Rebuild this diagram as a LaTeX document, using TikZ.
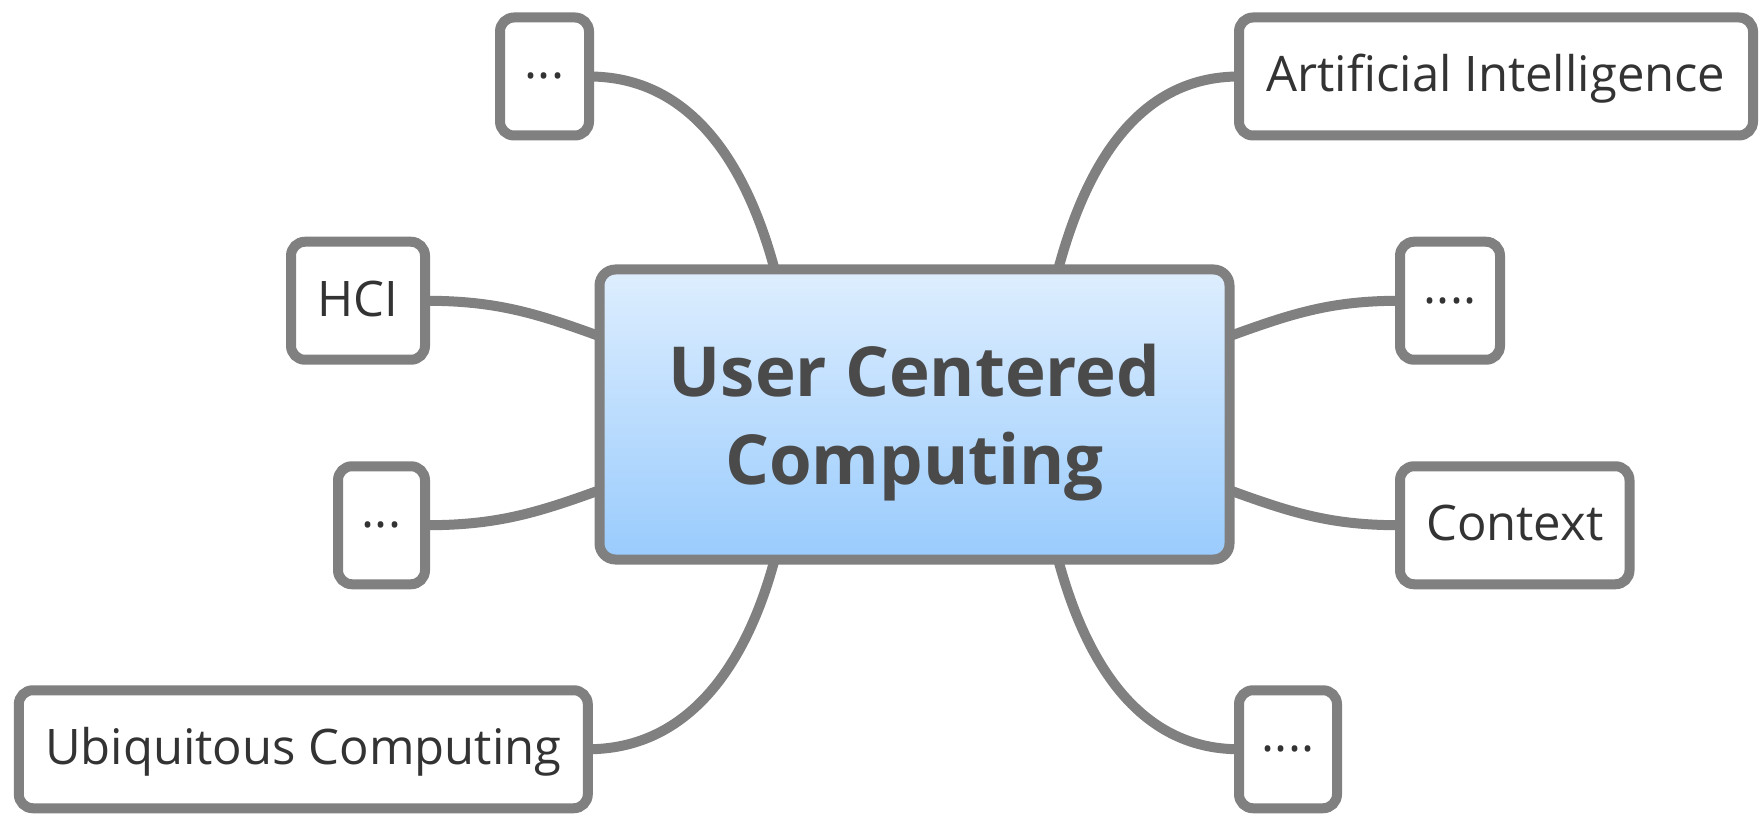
\documentclass[tikz,border=0pt]{standalone}
\usepackage{fontspec}
\setmainfont{Open Sans}
\usetikzlibrary{calc,backgrounds}
\definecolor{linegray}{HTML}{808080}
\definecolor{textgray}{HTML}{333333}
\definecolor{cctext}{HTML}{4A4A4A}
\definecolor{cctop}{HTML}{DEEEFE}
\definecolor{ccbot}{HTML}{99CBFD}
\begin{document}
\begin{tikzpicture}[x=1pt,y=1pt,
  leaf/.style={draw=linegray, line width=10pt, rounded corners=14pt, fill=white,
    minimum height=118pt, inner sep=0pt, outer sep=0pt, text=textgray,
    font=\fontsize{49}{58}\selectfont, text height=36pt, text depth=5pt},
  hub/.style={draw=linegray, line width=10pt, rounded corners=16pt,
    top color=cctop, bottom color=ccbot, minimum width=630pt, minimum height=290pt,
    inner sep=0pt, outer sep=0pt, text=cctext,
    font=\fontsize{69}{88}\selectfont\bfseries},
  conn/.style={draw=linegray, line width=10pt}]
\useasboundingbox (0,0) rectangle (1764,815);
\node[hub] (cc) at (914.5,400.5) {\raisebox{-8.5pt}[\height][\depth]{\begin{tabular}{@{}c@{}}User Centered\\Computing\end{tabular}}};
\node[leaf, minimum width=89pt] (tl) at (544.5,738.5) {\raisebox{13pt}{...}};
\node[leaf, minimum width=134pt] (hci) at (358,514.25) {HCI};
\node[leaf, minimum width=87pt] (ml) at (381.5,289.75) {\raisebox{13pt}{...}};
\node[leaf, minimum width=569pt] (ubi) at (303.3,65.75) {Ubiquitous Computing};
\node[leaf, minimum width=514pt] (ai) at (1496,738.5) {Artificial Intelligence};
\node[leaf, minimum width=100pt] (mr) at (1450,514.25) {\raisebox{13pt}{....}};
\node[leaf, minimum width=229.5pt] (ctx) at (1514.75,289.75) {Context};
\node[leaf, minimum width=98pt] (br) at (1288,65.75) {\raisebox{13pt}{....}};
\begin{scope}[on background layer]
\draw[conn] ($(cc.north west)!0.278!(cc.north east)$) to[out=105,in=0] (tl.east);
\draw[conn] ($(cc.north west)!0.728!(cc.north east)$) to[out=75,in=180] (ai.west);
\draw[conn] ($(cc.south west)!0.77!(cc.north west)$) to[out=160,in=0] (hci.east);
\draw[conn] ($(cc.south west)!0.239!(cc.north west)$) to[out=200,in=0] (ml.east);
\draw[conn] ($(cc.south west)!0.278!(cc.south east)$) to[out=255,in=0] (ubi.east);
\draw[conn] ($(cc.south east)!0.77!(cc.north east)$) to[out=20,in=180] (mr.west);
\draw[conn] ($(cc.south east)!0.239!(cc.north east)$) to[out=-20,in=180] (ctx.west);
\draw[conn] ($(cc.south west)!0.728!(cc.south east)$) to[out=285,in=180] (br.west);
\end{scope}
\end{tikzpicture}
\end{document}
